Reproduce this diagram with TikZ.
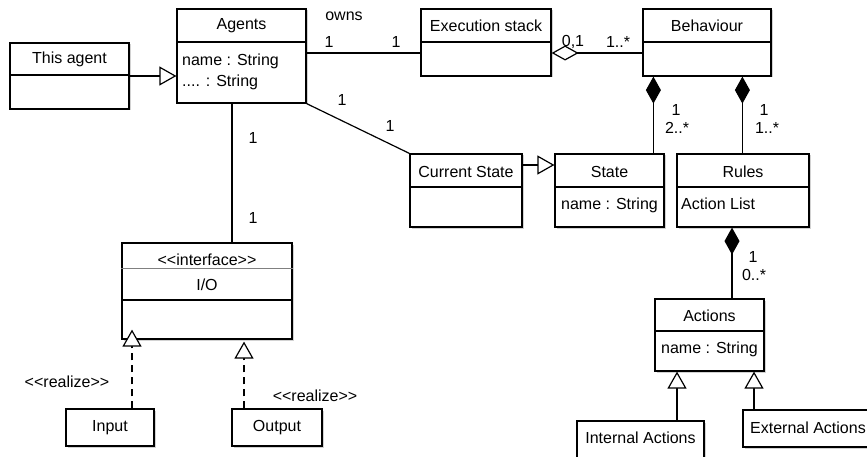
\documentclass[tikz,border=0pt]{standalone}
\usepackage{fontspec}
\setmainfont{Liberation Sans}[Ligatures=TeXOff]
\usetikzlibrary{arrows.meta,calc,shadows}
\begin{document}
\begin{tikzpicture}[x=1pt,y=-1pt,
  cls/.style={draw=black, line width=1.2pt, fill=white, inner sep=0pt,
    drop shadow={shadow xshift=1.5pt,shadow yshift=-1.5pt,opacity=0.35,fill=gray}},
  txt/.style={inner sep=0pt, font=\fontsize{16}{19}\selectfont},
  ln/.style={line width=1.2pt},
  div/.style={line width=1.2pt},
  gen/.style={ln, -{Triangle[open,fill=white,length=17pt,width=19pt]}},
  real/.style={gen, dash pattern=on 7pt off 5pt},
  comp/.style={ln, {Diamond[length=27pt,width=15pt]}-},
  agg/.style={ln, {Diamond[open,fill=white,length=27pt,width=15pt]}-},
]
\useasboundingbox (0,0) rectangle (867,457);
\fill[white] (0,0) rectangle (867,457);

% ---------- classes ----------
\node[cls, minimum width=119pt, minimum height=66pt] (thisagent) at (69.5,76) {};
\draw[div] (thisagent.west |- 0,75) -- (thisagent.east |- 0,75);
\node[txt] (thisagentT) at (69.5,59) {This agent};

\node[cls, minimum width=129pt, minimum height=94pt] (agents) at (241.5,56) {};
\draw[div] (agents.west |- 0,42) -- (agents.east |- 0,42);
\node[txt] (agentsT) at (241.5,26) {Agents};
\node[txt, anchor=west] (agentsA1) at (182,61) {name : String};
\node[txt, anchor=west] (agentsA2) at (182,82) {.... : String};

\node[cls, minimum width=130pt, minimum height=67pt] (exec) at (486,42.5) {};
\draw[div] (exec.west |- 0,42) -- (exec.east |- 0,42);
\node[txt] (execT) at (486,26) {Execution stack};

\node[cls, minimum width=128pt, minimum height=67pt] (behav) at (707,42.5) {};
\draw[div] (behav.west |- 0,42) -- (behav.east |- 0,42);
\node[txt] (behavT) at (707,26) {Behaviour};

\node[cls, minimum width=112pt, minimum height=73pt] (curstate) at (466,190.5) {};
\draw[div] (curstate.west |- 0,187) -- (curstate.east |- 0,187);
\node[txt] (curstateT) at (466,171.5) {Current State};

\node[cls, minimum width=109pt, minimum height=73pt] (state) at (609.5,190.5) {};
\draw[div] (state.west |- 0,187) -- (state.east |- 0,187);
\node[txt] (stateT) at (609.5,171.5) {State};
\node[txt] (stateA) at (609.5,205) {name : String};

\node[cls, minimum width=132pt, minimum height=73pt] (rules) at (743,190.5) {};
\draw[div] (rules.west |- 0,187) -- (rules.east |- 0,187);
\node[txt] (rulesT) at (743,171.5) {Rules};
\node[txt, anchor=west] (rulesA) at (681,204) {Action List};

\node[cls, minimum width=170pt, minimum height=96pt] (io) at (207,291) {};
\draw[line width=0.5pt, gray] (io.west |- 0,268) -- (io.east |- 0,268);
\draw[div] (io.west |- 0,300) -- (io.east |- 0,300);
\node[txt] (ioS) at (207,260) {<<interface>>};
\node[txt] (ioT) at (207,285) {I/O};

\node[cls, minimum width=88pt, minimum height=37pt] (input) at (110,427.5) {};
\node[txt] (inputT) at (110,427.5) {Input};

\node[cls, minimum width=90pt, minimum height=37pt] (output) at (277,427.5) {};
\node[txt] (outputT) at (277,427.5) {Output};

\node[cls, minimum width=109pt, minimum height=72pt] (actions) at (709.5,335) {};
\draw[div] (actions.west |- 0,331) -- (actions.east |- 0,331);
\node[txt] (actionsT) at (709.5,315.5) {Actions};
\node[txt] (actionsA) at (709.5,349) {name : String};

\node[cls, minimum width=127pt, minimum height=37pt] (internal) at (640.5,439.5) {};
\node[txt] (internalT) at (640.5,438) {Internal Actions};

\node[cls, minimum width=130pt, minimum height=37pt] (external) at (808,428.5) {};
\node[txt] (externalT) at (808,427.5) {External Actions};

% ---------- connector anchor points ----------
\coordinate (ag53) at ($(agents.east)+(0,-3)$);
\coordinate (ex53) at ($(exec.west)+(0,10.5)$);
\coordinate (exr) at ($(exec.east)+(0,10.5)$);
\coordinate (bhl) at ($(behav.west)+(0,10.5)$);
\coordinate (bd1) at ($(behav.south west)+(11,0)$);
\coordinate (bd2) at ($(behav.south west)+(100,0)$);
\coordinate (csr) at ($(curstate.east)+(0,-25.5)$);
\coordinate (iol) at ($(input.north)+(22,0)$);
\coordinate (iot1) at ($(io.south)+(-75,-10)$);
\coordinate (ior) at ($(output.north)+(-33,0)$);
\coordinate (iot2) at ($(io.south)+(37,2)$);
\coordinate (ia) at ($(internal.north)+(36.5,0)$);
\coordinate (ea) at ($(external.north)+(-54,0)$);
\coordinate (agb) at ($(agents.south)+(-9.5,0)$);
\coordinate (rd) at ($(actions.north)+(22.5,0)$);

% ---------- connectors ----------
\draw[gen] (thisagent.east |- 0,76) -- (agents.west |- 0,76);
\draw[ln] (ag53) -- (ex53);
\draw[agg] (exr) -- (bhl);
\draw[comp] (bd1) -- (bd1 |- state.north);
\draw[comp] (bd2) -- (bd2 |- rules.north);
\draw[ln] (agents.south east) -- (curstate.north west);
\draw[gen] (csr) -- (csr -| state.west);
\draw[ln] (agb) -- (agb |- io.north);
\draw[real] (iol) -- (iot1);
\draw[real] (ior) -- (iot2);
\draw[comp] (rd |- rules.south) -- (rd);
\draw[gen] (ia) -- (ia |- actions.south);
\draw[gen] (ea) -- (ea |- actions.south);

% ---------- labels ----------
\node[txt] (owns) at (344,16) {owns};
\node[txt] (m1) at (329,42) {1};
\node[txt] (m2) at (396,42) {1};
\node[txt] (m3) at (573,42) {0,1};
\node[txt] (m4) at (618,42) {1..*};
\node[txt] (m5) at (342,100) {1};
\node[txt] (m6) at (390,126) {1};
\node[txt] (m7) at (676,110) {1};
\node[txt] (m8) at (677,128) {2..*};
\node[txt] (m9) at (764,110) {1};
\node[txt] (m10) at (767,128) {1..*};
\node[txt] (m11) at (753,257) {1};
\node[txt] (m12) at (754,275) {0..*};
\node[txt] (m13) at (253,138) {1};
\node[txt] (m14) at (253,218) {1};
\node[txt] (r1) at (67,382) {<<realize>>};
\node[txt] (r2) at (315,396) {<<realize>>};
\end{tikzpicture}
\end{document}
